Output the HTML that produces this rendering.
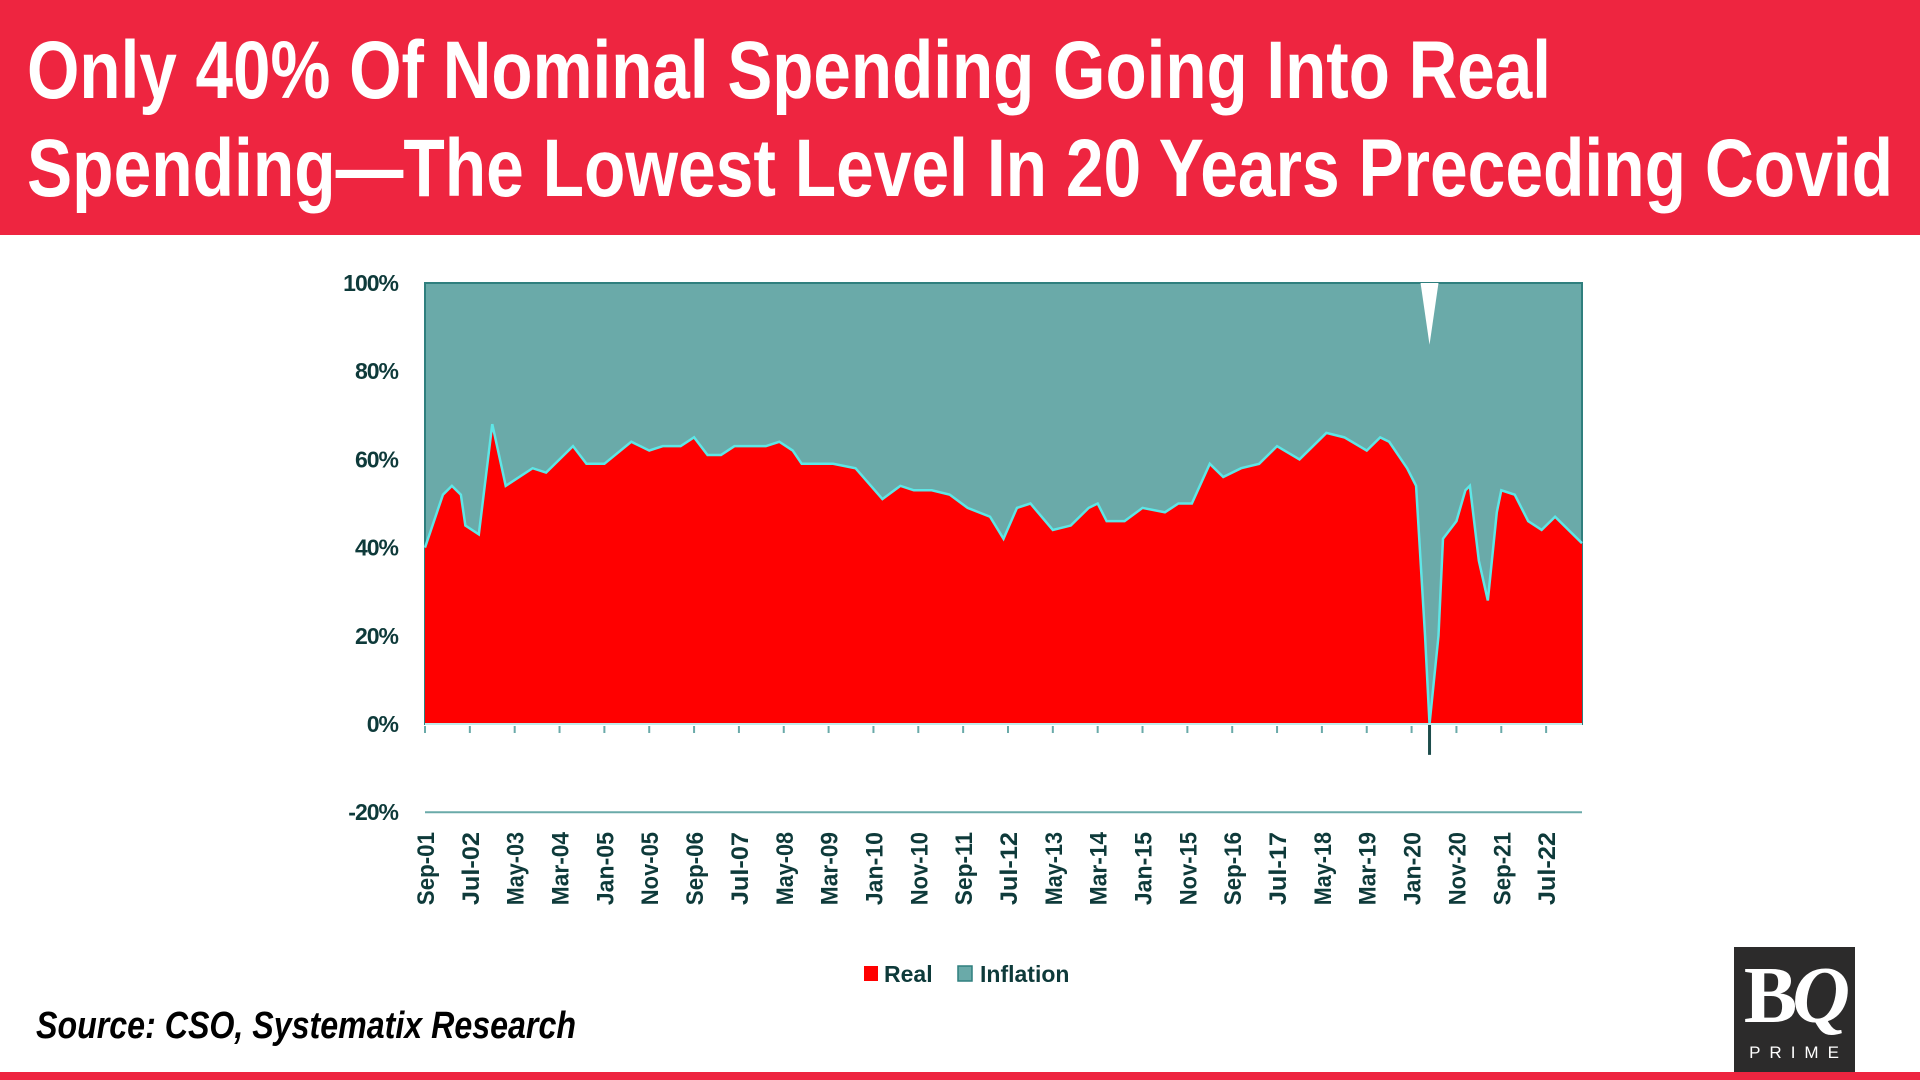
<!DOCTYPE html>
<html><head><meta charset="utf-8">
<style>
body{margin:0;width:1920px;height:1080px;overflow:hidden;background:#fff;font-family:"Liberation Sans",sans-serif;position:relative}
#header{position:absolute;left:0;top:0;width:1920px;height:235px;background:#ee2540}
.tl{position:absolute;left:27px;color:#fff;font-weight:bold;font-size:82px;line-height:82px;white-space:nowrap;transform-origin:0 0}
#src{position:absolute;left:36px;top:1005px;font-size:38px;font-style:italic;font-weight:bold;white-space:nowrap;transform-origin:0 0;color:#000}
#logo{position:absolute;left:1734px;top:947px;width:121px;height:125px;background:#2c2b2b;color:#fff}
#stripe{position:absolute;left:0;top:1072px;width:1920px;height:8px;background:#ee2540}
</style></head><body>
<div id="header">
<div class="tl" id="t1" style="top:30px">Only 40% Of Nominal Spending Going Into Real</div>
<div class="tl" id="t2" style="top:128px">Spending—The Lowest Level In 20 Years Preceding Covid</div>
</div>
<svg id="chart" width="1920" height="1080" style="position:absolute;left:0;top:0"></svg>
<div id="src">Source: CSO, Systematix Research</div>
<div id="logo">
<div style="position:absolute;left:0;width:121px;top:4px;text-align:center;font-family:'Liberation Serif',serif;font-size:80px;font-weight:bold;letter-spacing:-5px">B<i>Q</i></div>
<div style="position:absolute;left:0;width:121px;top:96px;text-align:center;font-size:17px;letter-spacing:9px;padding-left:8px;box-sizing:border-box">PRIME</div>
</div>
<div id="stripe"></div>
<script>
const months=[0,4,6,8,9,12,15,18,24,27,33,36,40,46,48,50,53,57,60,63,66,69,76,79,82,84,91,96,102,106,109,113,117,121,126,129,132,135,140,144,148,150,152,156,160,165,168,171,175,178,182,186,190,195,201,205,210,213,215,219,221,223,224,226,227,230,232,233,235,237,239,240,243,246,249,252,255,258];
const realShare=[40,52,54,52,45,43,68,54,58,57,63,59,59,64,63,62,63,63,65,61,61,63,63,64,62,59,59,58,51,54,53,53,52,49,47,42,49,50,44,45,49,50,46,46,49,48,50,50,59,56,58,59,63,60,66,65,62,65,64,58,54,20,-7,20,42,46,53,54,37,28,48,53,52,46,44,47,44,41];
const notchMonths=[222,224,226];
const notchTotal=[100,86,100];
const yTicks=[100,80,60,40,20,0,-20];
const yTickLabels=["100%","80%","60%","40%","20%","0%","-20%"];
const xLabels=["Sep-01","Jul-02","May-03","Mar-04","Jan-05","Nov-05","Sep-06","Jul-07","May-08","Mar-09","Jan-10","Nov-10","Sep-11","Jul-12","May-13","Mar-14","Jan-15","Nov-15","Sep-16","Jul-17","May-18","Mar-19","Jan-20","Nov-20","Sep-21","Jul-22"];
const x0=425,x1=1582,maxM=258;
const X=m=>x0+m/maxM*(x1-x0);
const Y=v=>724-v*4.41;
const svg=document.getElementById('chart');
const NS='http://www.w3.org/2000/svg';
function mk(t,a){const e=document.createElementNS(NS,t);for(const k in a)e.setAttribute(k,a[k]);svg.appendChild(e);return e;}
const inf=mk('rect',{x:x0,y:Y(100),width:x1-x0,height:Y(0)-Y(100),fill:'#6aaaa9',stroke:'#2f7f7e','stroke-width':2});

let np=notchMonths.map((m,i)=>X(m)+','+Y(notchTotal[i])).join(' ');
const notch=mk('polygon',{points:np,fill:'#fff'});

let pts=X(0)+','+Y(0)+' '+months.map((m,i)=>X(m)+','+Y(Math.max(0,realShare[i]))).join(' ')+' '+X(maxM)+','+Y(0);
const real=mk('polygon',{points:pts,fill:'#ff0000'});

const line=mk('polyline',{points:months.map((m,i)=>X(m)+','+Y(Math.max(0,realShare[i]))).join(' '),fill:'none',stroke:'#5ee6e6','stroke-width':2.5});

months.forEach((m,i)=>{if(realShare[i]<0){const s=mk('line',{x1:X(m),y1:Y(0),x2:X(m),y2:Y(realShare[i]),stroke:'#1d4d4c','stroke-width':3});
}});
const za=mk('line',{x1:x0,y1:Y(0),x2:x1,y2:Y(0),stroke:'#bfeaea','stroke-width':2});

const na=mk('line',{x1:x0,y1:Y(-20),x2:x1,y2:Y(-20),stroke:'#6aaaa9','stroke-width':2});

yTicks.forEach((v,i)=>{const t=mk('text',{x:398,y:Y(v)+8,'text-anchor':'end','font-size':23,'font-weight':'bold',fill:'#0e3a3a','font-family':'Liberation Sans, sans-serif','letter-spacing':'-1'});
t.textContent=yTickLabels[i];
});
xLabels.forEach((l,i)=>{const m=i*10;const tk=mk('line',{x1:X(m),y1:Y(0)+2,x2:X(m),y2:Y(0)+9,stroke:'#6aaaa9','stroke-width':2});

const t=mk('text',{x:0,y:0,'text-anchor':'end','font-size':24,'font-weight':'bold',fill:'#0e3a3a','font-family':'Liberation Sans, sans-serif',transform:`translate(${X(m)+9},832) rotate(-90)`,textLength:l.length*12.2,lengthAdjust:'spacingAndGlyphs'});
t.textContent=l;
});
const lr=mk('rect',{x:864,y:966,width:14,height:15,fill:'#ff0000'});
const lt=mk('text',{x:884,y:982,'font-size':23,'font-weight':'bold',fill:'#0e3a3a','font-family':'Liberation Sans, sans-serif'});lt.textContent='Real';
const ir=mk('rect',{x:958,y:966,width:14,height:15,fill:'#6aaaa9',stroke:'#2f7f7e','stroke-width':1.5});
const it=mk('text',{x:980,y:982,'font-size':23,'font-weight':'bold',fill:'#0e3a3a','font-family':'Liberation Sans, sans-serif'});it.textContent='Inflation';
function fit(id,w){const e=document.getElementById(id);const r=e.getBoundingClientRect().width;e.style.transform=`scaleX(${w/r})`;}
fit('t1',1524);fit('t2',1866);fit('src',540);
</script>
</body></html>
